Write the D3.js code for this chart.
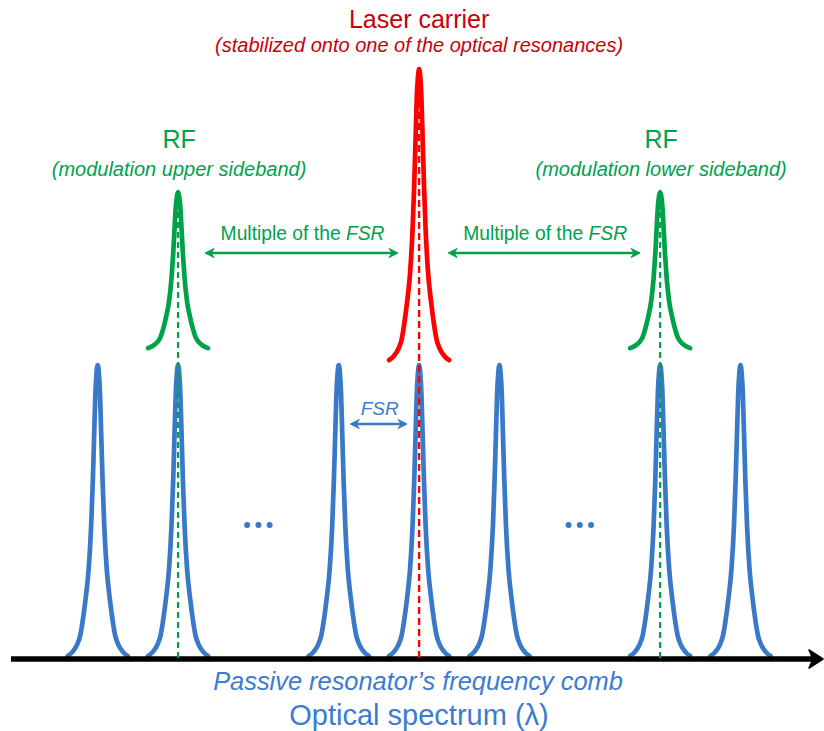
<!DOCTYPE html>
<html>
<head>
<meta charset="utf-8">
<script src="https://cdn.jsdelivr.net/npm/d3@7"></script>
<style>
  body { margin: 0; background: #ffffff; }
  svg text { font-family: "Liberation Sans", Arial, sans-serif; }
</style>
</head>
<body>
<svg id="chart" width="824" height="731"></svg>
<script>
// ---------------- DATA ----------------
// comb resonances, as mode numbers relative to the carrier (in FSR units)
const resonanceModes = [-4, -3, -1, 0, 1, 3, 4];
const carrierMode = 0;
const sidebandModes = [-3, 3];
const ellipsisModes = [-2, 2];
const ellipsisDots = [-0.14, 0, 0.14];
// half line-shape: offset (FSR) vs relative height
const profileOffset = [0, 0.015, 0.029, 0.045, 0.061, 0.081, 0.112, 0.149, 0.187, 0.218, 0.255, 0.311, 0.373];
const profileHeight = [1, 0.97, 0.9, 0.75, 0.6, 0.45, 0.3, 0.2, 0.12, 0.07, 0.04, 0.015, 0];
// [base level, amplitude] of each drawn line
const combLevel = [0, 1];
const carrierLevel = [1.017, 1.0];
const sidebandLevel = [1.058, 0.536];
// texts
const carrierTitle = "Laser carrier";
const carrierSubtitle = "(stabilized onto one of the optical resonances)";
const sidebandTitles = ["RF", "RF"];
const sidebandSubtitles = ["(modulation upper sideband)", "(modulation lower sideband)"];
const multipleLabel = ["Multiple of the ", "FSR"];
const fsrLabel = "FSR";
const combLabel = "Passive resonator\u2019s frequency comb";
const axisLabel = "Optical spectrum (\u03bb)";

// ---------------- STYLES ----------------
const BLUE = "#3a78c8", BLUE_TXT = "#3b7bd1", GREEN = "#00a14b", RED = "#ff0000", DARKRED = "#c8000a";

const svg = d3.select("#chart");
const x = d3.scaleLinear().domain([-4, 4]).range([97.7, 740.5]);
const y = d3.scaleLinear().domain([0, 2]).range([656, 74]);

function peakPoints(center, level) {
  const pts = [];
  for (let i = profileOffset.length - 1; i >= 1; i--) pts.push([center - profileOffset[i], level[0] + level[1] * profileHeight[i]]);
  pts.push([center, level[0] + level[1]]);
  for (let i = 1; i < profileOffset.length; i++) pts.push([center + profileOffset[i], level[0] + level[1] * profileHeight[i]]);
  return pts;
}
const line = d3.line().x(d => x(d[0])).y(d => y(d[1])).curve(d3.curveMonotoneX);

// blue comb
svg.append("g").selectAll("path").data(resonanceModes).join("path")
  .attr("d", m => line(peakPoints(m, combLevel)))
  .attr("fill", "none").attr("stroke", BLUE).attr("stroke-width", 4.7)
  .attr("stroke-linejoin", "round").attr("stroke-linecap", "round");

// axis
const axisY = 659;
svg.append("line").attr("x1", 11).attr("x2", 814).attr("y1", axisY).attr("y2", axisY)
  .attr("stroke", "#000").attr("stroke-width", 5.5);
svg.append("path")
  .attr("d", `M823,${axisY} L809,${axisY - 9} L813,${axisY} L809,${axisY + 9} Z`)
  .attr("fill", "#000").attr("stroke", "#000").attr("stroke-width", 1.5).attr("stroke-linejoin", "round");

// carrier peak
svg.append("path").attr("d", line(peakPoints(carrierMode, carrierLevel)))
  .attr("fill", "none").attr("stroke", RED).attr("stroke-width", 4.7)
  .attr("stroke-linejoin", "round").attr("stroke-linecap", "round");
// sideband peaks
svg.append("g").selectAll("path").data(sidebandModes).join("path")
  .attr("d", m => line(peakPoints(m, sidebandLevel)))
  .attr("fill", "none").attr("stroke", GREEN).attr("stroke-width", 4.7)
  .attr("stroke-linejoin", "round").attr("stroke-linecap", "round");

// dashed markers
svg.append("line").attr("x1", x(carrierMode)).attr("x2", x(carrierMode))
  .attr("y1", 90).attr("y2", 658)
  .attr("stroke", RED).attr("stroke-width", 2.4).attr("stroke-dasharray", "7,4");
svg.append("g").selectAll("line").data(sidebandModes).join("line")
  .attr("x1", m => x(m)).attr("x2", m => x(m))
  .attr("y1", 202).attr("y2", 658)
  .attr("stroke", GREEN).attr("stroke-width", 2.2).attr("stroke-dasharray", "6,4");

// ellipsis dots
svg.append("g").selectAll("circle")
  .data(ellipsisModes.flatMap(m => ellipsisDots.map(d => m + d))).join("circle")
  .attr("cx", d => x(d)).attr("cy", 525).attr("r", 3).attr("fill", BLUE);

// double arrows
function head(g, tx, ty, dir, color, L, H, N) {
  g.append("path")
    .attr("d", `M${tx},${ty} L${tx - dir * L},${ty - H} L${tx - dir * N},${ty} L${tx - dir * L},${ty + H} Z`)
    .attr("fill", color).attr("stroke", color).attr("stroke-width", 1).attr("stroke-linejoin", "round");
}
function dblArrow(x1, x2, yy, color, w) {
  const g = svg.append("g");
  g.append("line").attr("x1", x1 + 5).attr("x2", x2 - 5).attr("y1", yy).attr("y2", yy)
    .attr("stroke", color).attr("stroke-width", w);
  head(g, x1, yy, -1, color, 9, 4.5, 6);
  head(g, x2, yy, 1, color, 9, 4.5, 6);
}
const arrowsMultiple = [[x(-3) + 27, x(0) - 21], [x(0) + 29, x(3) - 20]];
arrowsMultiple.forEach(([a, b]) => {
  dblArrow(a, b, 253, GREEN, 2.5);
  const t = svg.append("text").attr("x", (a + b) / 2 + 1).attr("y", 240)
    .attr("text-anchor", "middle").attr("fill", GREEN).attr("font-size", 19.3);
  t.append("tspan").text(multipleLabel[0]);
  t.append("tspan").attr("font-style", "italic").text(multipleLabel[1]);
});
const fa = x(-1) + 11.5, fb = x(0) - 12;
dblArrow(fa, fb, 424, BLUE, 2.5);
svg.append("text").attr("x", (fa + fb) / 2 + 1).attr("y", 415).attr("text-anchor", "middle")
  .attr("fill", BLUE_TXT).attr("font-size", 19).attr("font-style", "italic").text(fsrLabel);

// titles
svg.append("text").attr("x", x(carrierMode)).attr("y", 28).attr("text-anchor", "middle")
  .attr("fill", DARKRED).attr("font-size", 25).text(carrierTitle);
svg.append("text").attr("x", x(carrierMode)).attr("y", 52).attr("text-anchor", "middle")
  .attr("fill", DARKRED).attr("font-size", 20).attr("font-style", "italic").text(carrierSubtitle);
sidebandModes.forEach((m, i) => {
  svg.append("text").attr("x", x(m) + 1).attr("y", 148).attr("text-anchor", "middle")
    .attr("fill", GREEN).attr("font-size", 25).text(sidebandTitles[i]);
  svg.append("text").attr("x", x(m) + 1).attr("y", 176).attr("text-anchor", "middle")
    .attr("fill", GREEN).attr("font-size", 20).attr("font-style", "italic").text(sidebandSubtitles[i]);
});
svg.append("text").attr("x", 418).attr("y", 690).attr("text-anchor", "middle")
  .attr("fill", BLUE_TXT).attr("font-size", 25.4).attr("font-style", "italic").text(combLabel);
svg.append("text").attr("x", 419).attr("y", 725).attr("text-anchor", "middle")
  .attr("fill", BLUE_TXT).attr("font-size", 29).text(axisLabel);
</script>
</body>
</html>
